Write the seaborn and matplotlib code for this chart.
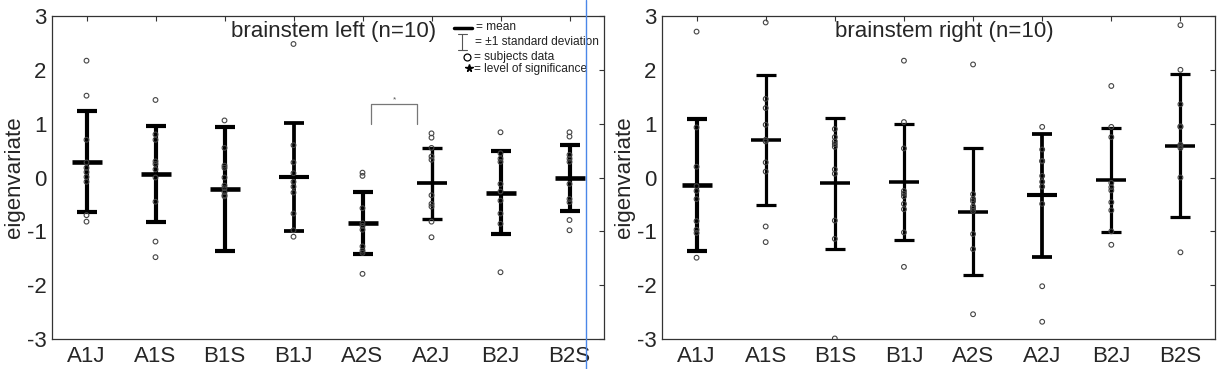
import numpy as np
import pandas as pd
import matplotlib
matplotlib.use("Agg")
import matplotlib.pyplot as plt
from matplotlib.lines import Line2D
from matplotlib.collections import PathCollection
import seaborn as sns

# ---------------- data ----------------
conditions = ["A1J", "A1S", "B1S", "B1J", "A2S", "A2J", "B2J", "B2S"]

left_title = "brainstem left (n=10)"
right_title = "brainstem right (n=10)"

left_A1J = [2.17, 1.52, 0.70, 0.28, 0.18, 0.10, 0.01, -0.08, -0.70, -0.82]
left_A1S = [1.44, 0.80, 0.70, 0.30, 0.25, 0.15, 0.00, -0.45, -1.19, -1.48]
left_B1S = [1.06, 0.55, 0.22, 0.18, 0.00, -0.15, -0.20, -0.27, -0.33, -0.35]
left_B1J = [2.48, 0.60, 0.28, 0.08, -0.08, -0.17, -0.28, -0.67, -0.98, -1.10]
left_A2S = [0.09, 0.03, -0.57, -0.85, -0.90, -0.97, -1.28, -1.36, -1.40, -1.79]
left_A2J = [0.82, 0.74, 0.55, 0.39, 0.33, -0.33, -0.49, -0.54, -0.82, -1.11]
left_B2J = [0.84, 0.45, 0.35, 0.29, -0.12, -0.26, -0.43, -0.67, -0.86, -1.76]
left_B2S = [0.84, 0.76, 0.42, 0.35, 0.29, -0.12, -0.40, -0.46, -0.79, -0.98]
left_means = [0.29, 0.065, -0.22, 0.015, -0.85, -0.11, -0.28, -0.01]
left_sd = [0.94, 0.89, 1.15, 1.00, 0.58, 0.655, 0.765, 0.615]

right_A1J = [2.71, 0.93, 0.20, -0.16, -0.25, -0.40, -0.81, -0.97, -1.03, -1.49]
right_A1S = [2.88, 1.46, 1.29, 0.98, 0.70, 0.67, 0.28, 0.11, -0.91, -1.20]
right_B1S = [0.90, 0.75, 0.67, 0.62, 0.57, 0.15, 0.07, -0.80, -1.14, -2.99]
right_B1J = [2.17, 1.03, 0.54, -0.25, -0.30, -0.35, -0.49, -0.59, -1.02, -1.66]
right_A2S = [2.10, -0.31, -0.40, -0.44, -0.54, -0.58, -0.62, -1.05, -1.33, -2.54]
right_A2J = [0.94, 0.52, 0.31, 0.30, 0.03, -0.08, -0.17, -0.49, -2.02, -2.68]
right_B2J = [1.70, 0.94, 0.75, -0.10, -0.18, -0.24, -0.46, -0.61, -1.00, -1.25]
right_B2S = [2.83, 2.00, 1.36, 0.95, 0.94, 0.61, 0.58, 0.55, 0.00, -1.39]
right_means = [-0.14, 0.70, -0.11, -0.09, -0.64, -0.33, -0.05, 0.59]
right_sd = [1.22, 1.205, 1.21, 1.075, 1.18, 1.145, 0.97, 1.33]

# significance bracket (left panel): x from, x to, y low, y high, star label
sig_bracket = (4.13, 4.79, 0.99, 1.36)
sig_label = "*"

legend_texts = ["= mean", "= \u00b11 standard deviation", "= subjects data", "= level of significance"]

# styles (line widths per condition, thick vs medium)
left_lw = [3.0, 3.0, 3.0, 2.7, 3.0, 2.4, 3.0, 3.0]
right_lw = [3.0, 2.3, 2.3, 2.3, 2.3, 2.7, 2.3, 2.3]

# ---------------- plot ----------------
sns.set_style("white")
plt.rcParams["font.family"] = ["Liberation Sans", "DejaVu Sans"]

fig = plt.figure(figsize=(12.25, 3.69), dpi=100)
W, H = 1225.0, 369.0
ax_l = fig.add_axes([52 / W, 30 / H, 552 / W, 323 / H])
ax_r = fig.add_axes([662 / W, 30 / H, 553 / W, 323 / H])


def long_df(groups):
    rows = []
    for cond, vals in zip(conditions, groups):
        for v in vals:
            rows.append({"condition": cond, "eigenvariate": v})
    return pd.DataFrame(rows)


panels = [
    (ax_l, [left_A1J, left_A1S, left_B1S, left_B1J, left_A2S, left_A2J, left_B2J, left_B2S],
     left_means, left_sd, left_lw, left_title),
    (ax_r, [right_A1J, right_A1S, right_B1S, right_B1J, right_A2S, right_A2J, right_B2J, right_B2S],
     right_means, right_sd, right_lw, right_title),
]

for ax, groups, means, sds, lws, title in panels:
    df = long_df(groups)
    pos = np.arange(len(conditions))
    for i in range(len(conditions)):
        ax.errorbar(pos[i], means[i], yerr=sds[i], fmt="none", ecolor="black",
                    elinewidth=lws[i], capsize=7.5, capthick=lws[i], zorder=2)
        ax.errorbar(pos[i], means[i], fmt="_", color="black", markersize=22,
                    markeredgewidth=lws[i] * 1.1, zorder=3)
    sns.stripplot(data=df, x="condition", y="eigenvariate", order=conditions,
                  jitter=False, ax=ax, color="#444444", size=3.4, linewidth=0.8,
                  edgecolor="#444444", zorder=4)
    for coll in ax.collections:
        if isinstance(coll, PathCollection):
            coll.set_facecolor("none")
            coll.set_edgecolor("#444444")
    ax.set_xlim(-0.5, 7.5)
    ax.set_ylim(-3, 3)
    ax.set_yticks([-3, -2, -1, 0, 1, 2, 3])
    ax.set_yticklabels(["-3", "-2", "-1", "0", "1", "2", "3"])
    ax.set_xlabel("")
    ax.set_ylabel("eigenvariate", fontsize=16, labelpad=1)
    ax.tick_params(axis="both", direction="in", top=True, right=True, length=3.5,
                   width=0.8, color="#333333", labelsize=16, pad=5)
    ax.tick_params(axis="y", pad=4)
    for sp in ax.spines.values():
        sp.set_visible(True)
        sp.set_color("#333333")
        sp.set_linewidth(0.9)
    ax.text(0.51, 0.985, title, transform=ax.transAxes, ha="center", va="top", fontsize=16)

# significance bracket
x0, x1, ylo, yhi = sig_bracket
ax_l.plot([x0, x0, x1, x1], [ylo, yhi, yhi, ylo], color="#777777", lw=0.9, zorder=1)
ax_l.text((x0 + x1) / 2, yhi + 0.02, sig_label, ha="center", va="bottom",
          fontsize=6, color="#555555")

# legend (drawn symbols + text in axes fraction)
t = ax_l.transAxes
ax_l.add_line(Line2D([0.728, 0.761], [0.964, 0.964], transform=t, color="black", lw=2.5))
ax_l.add_line(Line2D([0.743, 0.743], [0.895, 0.944], transform=t, color="#555555", lw=0.8))
ax_l.add_line(Line2D([0.735, 0.751], [0.944, 0.944], transform=t, color="#555555", lw=0.8))
ax_l.add_line(Line2D([0.735, 0.751], [0.895, 0.895], transform=t, color="#555555", lw=0.8))
ax_l.add_line(Line2D([0.752], [0.873], transform=t, marker="o", markersize=5,
                     markerfacecolor="none", markeredgecolor="black", markeredgewidth=0.9,
                     linestyle="none"))
ax_l.add_line(Line2D([0.755], [0.839], transform=t, marker="*", markersize=5.5,
                     color="black", linestyle="none"))
legend_y = [0.966, 0.920, 0.873, 0.835]
legend_x = [0.769, 0.767, 0.764, 0.764]
for txt, lx, ly in zip(legend_texts, legend_x, legend_y):
    ax_l.text(lx, ly, txt, transform=t, ha="left", va="center", fontsize=8.6,
              color="#222222")

# thin blue vertical line artifact
fig.add_artist(Line2D([585.5 / W, 585.5 / W], [0, 1], transform=fig.transFigure,
                      color="#4a86e8", lw=1))

fig.savefig("out.png", dpi=100)
